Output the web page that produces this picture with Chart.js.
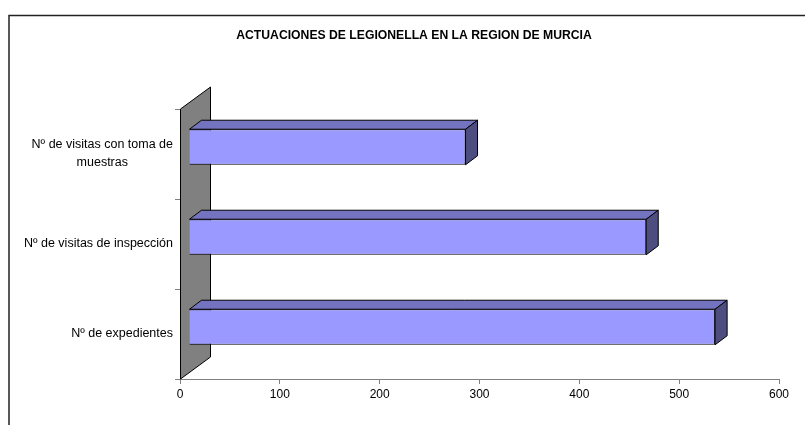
<!DOCTYPE html>
<html lang="es">
<head>
    <meta charset="UTF-8">
    <title>Actuaciones de Legionella</title>
    <style>
        body { margin: 0; background: #fff; }
        #wrap { width: 805px; height: 425px; }
    </style>
</head>
<body>
<div id="wrap"><canvas id="chart" width="805" height="425"></canvas></div>

<script src="https://cdn.jsdelivr.net/npm/chart.js@4.4.1/dist/chart.umd.min.js"></script>
<script>
  const title = 'ACTUACIONES DE LEGIONELLA EN LA REGION DE MURCIA';
  const categories = [
    ['Nº de visitas con toma de', 'muestras'],
    ['Nº de visitas de inspección'],
    ['Nº de expedientes']
  ];
  const values = [277, 458, 527];
  const xTicks = [0, 100, 200, 300, 400, 500, 600];

  // 3d look, roughly the old Excel style
  const wallDepth = { dx: 30, dy: -22 };
  const barShift = { dx: 9, dy: -7 };
  const barDepth = { dx: 12, dy: -9 };

  function poly(ctx, pts, fill) {
    ctx.beginPath();
    ctx.moveTo(pts[0][0], pts[0][1]);
    for (let i = 1; i < pts.length; i++) ctx.lineTo(pts[i][0], pts[i][1]);
    ctx.closePath();
    ctx.fillStyle = fill;
    ctx.fill();
    ctx.strokeStyle = '#000';
    ctx.lineWidth = 1;
    ctx.stroke();
  }

  const threeD = {
    id: 'threeD',
    beforeDatasetsDraw(chart) {
      const ctx = chart.ctx;
      const a = chart.chartArea;
      const l = Math.round(a.left) + 0.5;
      poly(ctx, [
        [l, a.top], [l + wallDepth.dx, a.top + wallDepth.dy],
        [l + wallDepth.dx, a.bottom + wallDepth.dy], [l, a.bottom]
      ], '#808080');
      ctx.save();
      ctx.translate(barShift.dx, barShift.dy);
    },
    afterDatasetsDraw(chart) {
      const ctx = chart.ctx;
      chart.getDatasetMeta(0).data.forEach(bar => {
        const p = bar.getProps(['x', 'y', 'base', 'height'], true);
        const left = p.base, right = p.x;
        const top = p.y - p.height / 2, bottom = p.y + p.height / 2;
        poly(ctx, [
          [left, top], [left + barDepth.dx, top + barDepth.dy],
          [right + barDepth.dx, top + barDepth.dy], [right, top]
        ], '#7373BF');
        poly(ctx, [
          [right, top], [right + barDepth.dx, top + barDepth.dy],
          [right + barDepth.dx, bottom + barDepth.dy], [right, bottom]
        ], '#4D4D80');
      });
      ctx.restore();
    },
    afterDraw(chart) {
      const ctx = chart.ctx;
      const yScale = chart.scales.y;
      ctx.save();
      // outer frame
      ctx.strokeStyle = '#222';
      ctx.lineWidth = 1.5;
      ctx.strokeRect(9, 15.5, 830, 440);
      // title
      ctx.fillStyle = '#000';
      ctx.font = 'bold 12.2px Arial, "Liberation Sans", sans-serif';
      ctx.textAlign = 'center';
      ctx.textBaseline = 'middle';
      ctx.fillText(title, 414, 36);
      // category labels, lines centered on each other, block right aligned
      ctx.font = '12.5px Arial, "Liberation Sans", sans-serif';
      const lineH = 18;
      categories.forEach((lines, i) => {
        const y = yScale.getPixelForValue(i);
        const w = Math.max(...lines.map(t => ctx.measureText(t).width));
        const cx = 173 - w / 2;
        lines.forEach((t, j) => {
          ctx.fillText(t, cx, y + (j - (lines.length - 1) / 2) * lineH);
        });
      });
      ctx.restore();
    }
  };

  new Chart(document.getElementById('chart'), {
    type: 'bar',
    data: {
      labels: categories,
      datasets: [{
        data: values,
        backgroundColor: '#9999FF',
        borderColor: '#000',
        borderWidth: 1,
        barPercentage: 0.395,
        categoryPercentage: 1,
        clip: false
      }]
    },
    options: {
      indexAxis: 'y',
      responsive: false,
      animation: false,
      layout: { padding: { top: 109, right: 26, left: 0, bottom: 0 } },
      plugins: { legend: { display: false }, title: { display: false }, tooltip: { enabled: false } },
      scales: {
        x: {
          min: 0,
          max: 600,
          afterBuildTicks: s => { s.ticks = xTicks.map(v => ({ value: v })); },
          afterFit: s => { s.height = 46; },
          ticks: { color: '#000', padding: 3, font: { family: 'Arial, "Liberation Sans"', size: 12 } },
          grid: { drawOnChartArea: false, tickLength: 5, color: '#808080' },
          border: { color: '#808080' }
        },
        y: {
          afterFit: s => { s.width = 180; },
          ticks: { display: false },
          grid: { drawOnChartArea: false, tickLength: 5, color: '#808080', offset: true },
          border: { display: false }
        }
      }
    },
    plugins: [threeD]
  });
</script>
</body>
</html>
